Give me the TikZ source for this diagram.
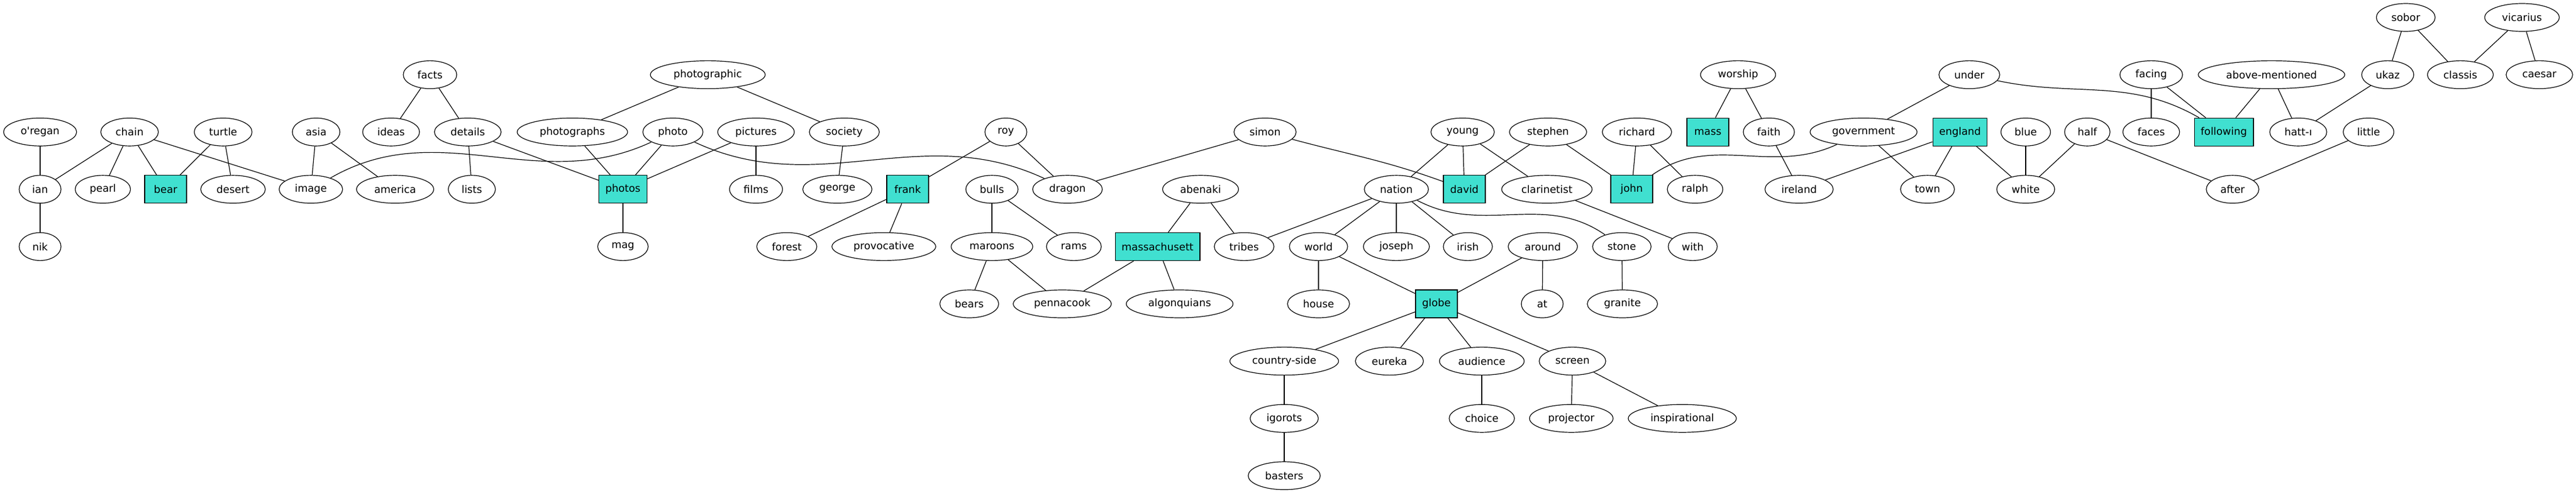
\documentclass[tikz,border=0pt]{standalone}
\usepackage{fontspec}
\setmainfont{DejaVu Sans}
\usetikzlibrary{shapes.geometric}
\definecolor{turquoise}{HTML}{40E0D0}
\begin{document}
\begin{tikzpicture}
    \def\dx{0.75pt}
    \def\dy{73.95pt}

    \tikzstyle{word}=[draw,ellipse,line width=0.9pt,inner xsep=8.25pt,inner ysep=2pt,minimum width=54pt,minimum height=36pt,font=\fontsize{13.3}{16}\selectfont]
    \tikzstyle{key}=[word,rectangle,fill=turquoise]

    \useasboundingbox (0,30*\dx) rectangle (4433*\dx,-821*\dx);

    \node[word]  (sobor) at (4140*\dx,0*\dy) {sobor};
    \node[word]  (vicarius) at (4340*\dx,0*\dy) {vicarius};

    \node[word]  (facts) at (740*\dx,-1*\dy) {facts};
    \node[word]  (photographic) at (1218*\dx,-1*\dy) {photographic};
    \node[word]  (worship) at (2991*\dx,-1*\dy) {worship};
    \node[word]  (under) at (3389*\dx,-1*\dy) {under};
    \node[word]  (facing) at (3702*\dx,-1*\dy) {facing};
    \node[word]  (abovementioned) at (3909*\dx,-1*\dy) {above-mentioned};
    \node[word]  (ukaz) at (4109*\dx,-1*\dy) {ukaz};
    \node[word]  (classis) at (4234*\dx,-1*\dy) {classis};
    \node[word]  (caesar) at (4370*\dx,-1*\dy) {caesar};

    \node[word]  (oregan) at (69*\dx,-2*\dy) {o\textquotesingle regan};
    \node[word]  (chain) at (223*\dx,-2*\dy) {chain};
    \node[word]  (turtle) at (384*\dx,-2*\dy) {turtle};
    \node[word]  (asia) at (544*\dx,-2*\dy) {asia};
    \node[word]  (ideas) at (673*\dx,-2*\dy) {ideas};
    \node[word]  (details) at (805*\dx,-2*\dy) {details};
    \node[word]  (photographs) at (985*\dx,-2*\dy) {photographs};
    \node[word]  (photo) at (1158*\dx,-2*\dy) {photo};
    \node[word]  (pictures) at (1301*\dx,-2*\dy) {pictures};
    \node[word]  (society) at (1453*\dx,-2*\dy) {society};
    \node[word]  (roy) at (1731*\dx,-2*\dy) {roy};
    \node[word]  (simon) at (2177*\dx,-2*\dy) {simon};
    \node[word]  (young) at (2517*\dx,-2*\dy) {young};
    \node[word]  (stephen) at (2664*\dx,-2*\dy) {stephen};
    \node[word]  (richard) at (2817*\dx,-2*\dy) {richard};
    \node[key]   (mass) at (2939*\dx,-2*\dy) {mass};
    \node[word]  (faith) at (3044*\dx,-2*\dy) {faith};
    \node[word]  (government) at (3207*\dx,-2*\dy) {government};
    \node[key]   (england) at (3373*\dx,-2*\dy) {england};
    \node[word]  (blue) at (3486*\dx,-2*\dy) {blue};
    \node[word]  (half) at (3592*\dx,-2*\dy) {half};
    \node[word]  (faces) at (3702*\dx,-2*\dy) {faces};
    \node[key]   (following) at (3827*\dx,-2*\dy) {following};
    \node[word]  (hatt) at (3955*\dx,-2*\dy) {hatt-ı};
    \node[word]  (little) at (4076*\dx,-2*\dy) {little};

    \node[word]  (ian) at (69*\dx,-3*\dy) {ian};
    \node[word]  (pearl) at (177*\dx,-3*\dy) {pearl};
    \node[key]   (bear) at (285*\dx,-3*\dy) {bear};
    \node[word]  (desert) at (401*\dx,-3*\dy) {desert};
    \node[word]  (image) at (535*\dx,-3*\dy) {image};
    \node[word]  (america) at (680*\dx,-3*\dy) {america};
    \node[word]  (lists) at (812*\dx,-3*\dy) {lists};
    \node[key]   (photos) at (1072*\dx,-3*\dy) {photos};
    \node[word]  (films) at (1301*\dx,-3*\dy) {films};
    \node[word]  (george) at (1441*\dx,-3*\dy) {george};
    \node[key]   (frank) at (1562*\dx,-3*\dy) {frank};
    \node[word]  (bulls) at (1707*\dx,-3*\dy) {bulls};
    \node[word]  (dragon) at (1837*\dx,-3*\dy) {dragon};
    \node[word]  (abenaki) at (2066*\dx,-3*\dy) {abenaki};
    \node[word]  (nation) at (2403*\dx,-3*\dy) {nation};
    \node[key]   (david) at (2520*\dx,-3*\dy) {david};
    \node[word]  (clarinetist) at (2662*\dx,-3*\dy) {clarinetist};
    \node[key]   (john) at (2808*\dx,-3*\dy) {john};
    \node[word]  (ralph) at (2917*\dx,-3*\dy) {ralph};
    \node[word]  (ireland) at (3096*\dx,-3*\dy) {ireland};
    \node[word]  (town) at (3317*\dx,-3*\dy) {town};
    \node[word]  (white) at (3486*\dx,-3*\dy) {white};
    \node[word]  (after) at (3842*\dx,-3*\dy) {after};

    \node[word]  (nik) at (69*\dx,-4*\dy) {nik};
    \node[word]  (mag) at (1072*\dx,-4*\dy) {mag};
    \node[word]  (forest) at (1354*\dx,-4*\dy) {forest};
    \node[word]  (provocative) at (1521*\dx,-4*\dy) {provocative};
    \node[word]  (maroons) at (1707*\dx,-4*\dy) {maroons};
    \node[word]  (rams) at (1848*\dx,-4*\dy) {rams};
    \node[key]   (massachusett) at (1992*\dx,-4*\dy) {massachusett};
    \node[word]  (tribes) at (2141*\dx,-4*\dy) {tribes};
    \node[word]  (world) at (2269*\dx,-4*\dy) {world};
    \node[word]  (joseph) at (2403*\dx,-4*\dy) {joseph};
    \node[word]  (irish) at (2526*\dx,-4*\dy) {irish};
    \node[word]  (around) at (2655*\dx,-4*\dy) {around};
    \node[word]  (stone) at (2791*\dx,-4*\dy) {stone};
    \node[word]  (with) at (2913*\dx,-4*\dy) {with};

    \node[word]  (bears) at (1668*\dx,-5*\dy) {bears};
    \node[word]  (pennacook) at (1828*\dx,-5*\dy) {pennacook};
    \node[word]  (algonquians) at (2030*\dx,-5*\dy) {algonquians};
    \node[word]  (house) at (2269*\dx,-5*\dy) {house};
    \node[key]   (globe) at (2472*\dx,-5*\dy) {globe};
    \node[word]  (at) at (2654*\dx,-5*\dy) {at};
    \node[word]  (granite) at (2792*\dx,-5*\dy) {granite};

    \node[word]  (countryside) at (2210*\dx,-6*\dy) {country-side};
    \node[word]  (eureka) at (2391*\dx,-6*\dy) {eureka};
    \node[word]  (audience) at (2550*\dx,-6*\dy) {audience};
    \node[word]  (screen) at (2706*\dx,-6*\dy) {screen};

    \node[word]  (igorots) at (2210*\dx,-7*\dy) {igorots};
    \node[word]  (choice) at (2550*\dx,-7*\dy) {choice};
    \node[word]  (projector) at (2704*\dx,-7*\dy) {projector};
    \node[word]  (inspirational) at (2895*\dx,-7*\dy) {inspirational};

    \node[word]  (basters) at (2210*\dx,-8*\dy) {basters};

    \tikzstyle{link} = [draw=black, line width=0.9pt]

          \draw [link] (oregan) -- (ian);
          \draw [link] (ian) -- (nik);
          \draw [link] (chain) -- (ian);
          \draw [link] (chain) -- (pearl);
          \draw [link] (chain) -- (bear);
          \draw [link] (chain) -- (image);
          \draw [link] (turtle) -- (bear);
          \draw [link] (turtle) -- (desert);
          \draw [link] (asia) -- (image);
          \draw [link] (asia) -- (america);
          \draw [link] (facts) -- (ideas);
          \draw [link] (facts) -- (details);
          \draw [link] (details) -- (lists);
          \draw [link] (details) -- (photos);
          \draw [link] (photographic) -- (photographs);
          \draw [link] (photographic) -- (society);
          \draw [link] (photographs) -- (photos);
          \draw [link] (photo) -- (photos);
          \draw [link] (image) to[out=30,in=205] (photo);
          \draw [link] (photo) to[out=-25,in=155] (dragon);
          \draw [link] (pictures) -- (photos);
          \draw [link] (pictures) -- (films);
          \draw [link] (society) -- (george);
          \draw [link] (photos) -- (mag);
          \draw [link] (roy) -- (frank);
          \draw [link] (roy) -- (dragon);
          \draw [link] (simon) -- (dragon);
          \draw [link] (simon) to[out=-15,in=160] (david);
          \draw [link] (frank) -- (forest);
          \draw [link] (frank) -- (provocative);
          \draw [link] (bulls) -- (maroons);
          \draw [link] (bulls) -- (rams);
          \draw [link] (abenaki) -- (massachusett);
          \draw [link] (abenaki) -- (tribes);
          \draw [link] (maroons) -- (bears);
          \draw [link] (maroons) -- (pennacook);
          \draw [link] (massachusett) -- (pennacook);
          \draw [link] (massachusett) -- (algonquians);
          \draw [link] (nation) -- (tribes);
          \draw [link] (young) -- (nation);
          \draw [link] (young) -- (david);
          \draw [link] (young) -- (clarinetist);
          \draw [link] (stephen) -- (david);
          \draw [link] (stephen) -- (john);
          \draw [link] (richard) -- (john);
          \draw [link] (richard) -- (ralph);
          \draw [link] (government) to[out=205,in=35] (john);
          \draw [link] (worship) -- (mass);
          \draw [link] (worship) -- (faith);
          \draw [link] (faith) -- (ireland);
          \draw [link] (under) -- (government);
          \draw [link] (under) to[out=-12,in=150] (following);
          \draw [link] (government) -- (town);
          \draw [link] (england) -- (ireland);
          \draw [link] (england) -- (town);
          \draw [link] (england) -- (white);
          \draw [link] (blue) -- (white);
          \draw [link] (half) -- (white);
          \draw [link] (half) -- (after);
          \draw [link] (little) -- (after);
          \draw [link] (facing) -- (faces);
          \draw [link] (facing) -- (following);
          \draw [link] (abovementioned) -- (following);
          \draw [link] (abovementioned) -- (hatt);
          \draw [link] (ukaz) -- (hatt);
          \draw [link] (sobor) -- (ukaz);
          \draw [link] (sobor) -- (classis);
          \draw [link] (vicarius) -- (classis);
          \draw [link] (vicarius) -- (caesar);
          \draw [link] (clarinetist) -- (with);
          \draw [link] (nation) -- (world);
          \draw [link] (nation) -- (joseph);
          \draw [link] (nation) -- (irish);
          \draw [link] (nation) to[out=-28,in=145] (stone);
          \draw [link] (world) -- (house);
          \draw [link] (world) -- (globe);
          \draw [link] (around) -- (globe);
          \draw [link] (around) -- (at);
          \draw [link] (stone) -- (granite);
          \draw [link] (globe) -- (countryside);
          \draw [link] (globe) -- (eureka);
          \draw [link] (globe) -- (audience);
          \draw [link] (globe) -- (screen);
          \draw [link] (countryside) -- (igorots);
          \draw [link] (igorots) -- (basters);
          \draw [link] (audience) -- (choice);
          \draw [link] (screen) -- (projector);
          \draw [link] (screen) -- (inspirational);

  \end{tikzpicture}
\end{document}
